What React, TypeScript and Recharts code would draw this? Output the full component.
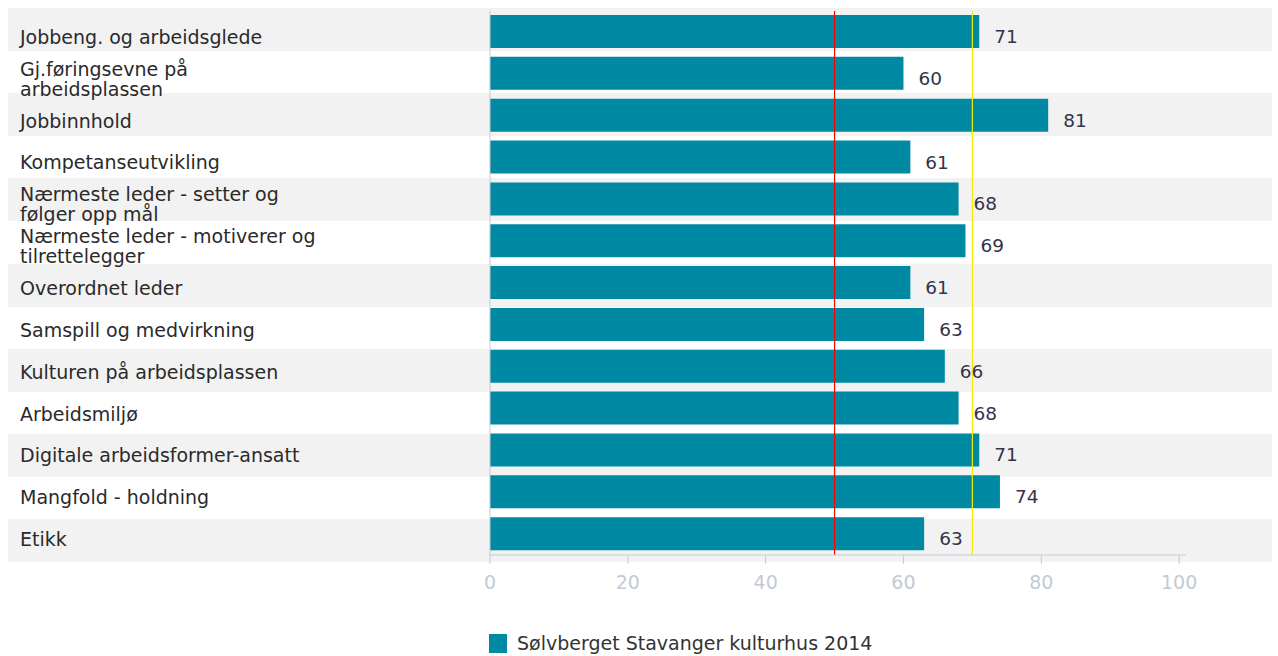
import { BarChart, Bar, XAxis, YAxis, ReferenceLine, LabelList } from 'recharts'

const categories = [
  'Jobbeng. og arbeidsglede',
  'Gj.føringsevne på arbeidsplassen',
  'Jobbinnhold',
  'Kompetanseutvikling',
  'Nærmeste leder - setter og følger opp mål',
  'Nærmeste leder - motiverer og tilrettelegger',
  'Overordnet leder',
  'Samspill og medvirkning',
  'Kulturen på arbeidsplassen',
  'Arbeidsmiljø',
  'Digitale arbeidsformer-ansatt',
  'Mangfold - holdning',
  'Etikk',
]
const values = [71, 60, 81, 61, 68, 69, 61, 63, 66, 68, 71, 74, 63]
const seriesName = 'Sølvberget Stavanger kulturhus 2014'
const xTicks = [0, 20, 40, 60, 80, 100]
const redLine = 50
const yellowLine = 70

const data = categories.map((name, i) => ({ name, value: values[i] }))

const FONT = '"DejaVu Sans", Verdana, sans-serif'
const BAR = '#0089a3'
const AXIS = '#c3cad4'
const LABEL_SIZE = 19
const WRAP = 308

let ctx: CanvasRenderingContext2D | null = null
function wrap(text: string): string[] {
  if (!ctx) {
    ctx = document.createElement('canvas').getContext('2d')
    if (ctx) ctx.font = `${LABEL_SIZE}px "DejaVu Sans"`
  }
  const words = text.split(' ')
  const lines: string[] = []
  let cur = ''
  for (const w of words) {
    const test = cur ? cur + ' ' + w : w
    if (cur && ctx && ctx.measureText(test).width > WRAP) {
      lines.push(cur)
      cur = w
    } else cur = test
  }
  if (cur) lines.push(cur)
  return lines
}

// venstre-kolonne med kategorinavn, brytes over to linjer ved behov
const CategoryTick = ({ y, payload }: any) => {
  const lines = wrap(String(payload.value))
  const lh = 20
  const start = Number(y) + 5 - ((lines.length - 1) * lh) / 2
  return (
    <text fill="#2a2a2a" style={{ fontSize: LABEL_SIZE, fontFamily: FONT }} dominantBaseline="central">
      {lines.map((l, i) => (
        <tspan key={i} x={20} y={start + i * lh}>{l}</tspan>
      ))}
    </text>
  )
}

const ValueLabel = ({ x, y, width, height, value }: any) => (
  <text
    x={Number(x) + Number(width) + 15}
    y={Number(y) + Number(height) / 2 + 5}
    dominantBaseline="central"
    fill="#33334a"
    style={{ fontSize: 18.5, fontFamily: FONT }}
  >
    {value}
  </text>
)

export default function App() {
  return (
    <div style={{ position: 'absolute', left: 0, top: 0, width: 1278, height: 656, background: '#fff', fontFamily: FONT }}>
      {/* stripete bakgrunn */}
      {categories.map((c, i) =>
        i % 2 === 0 ? (
          <div
            key={c}
            style={{ position: 'absolute', left: 8, width: 1264, top: Math.round(8 + i * 42.6), height: 43, background: '#f2f2f2' }}
          />
        ) : null
      )}
      <div style={{ position: 'absolute', left: 0, top: 0 }}>
        <BarChart
          width={1278}
          height={656}
          data={data}
          layout="vertical"
          margin={{ top: 11, right: 92, bottom: 56, left: 0 }}
          barCategoryGap={0}
        >
          <XAxis
            type="number"
            domain={[0, 101]}
            ticks={xTicks}
            allowDataOverflow
            stroke={AXIS}
            tickLine={{ stroke: AXIS }}
            tickSize={9}
            height={45}
            tick={{ fill: '#c3cad4', fontSize: 19, fontFamily: FONT }}
            tickMargin={12}
          />
          <YAxis
            type="category"
            dataKey="name"
            width={490}
            stroke={AXIS}
            tickLine={false}
            tick={<CategoryTick />}
            interval={0}
          />
          <Bar dataKey="value" name={seriesName} fill={BAR} barSize={33} isAnimationActive={false}>
            <LabelList dataKey="value" content={<ValueLabel />} />
          </Bar>
          <ReferenceLine x={redLine} stroke="#ff0000" strokeWidth={1.2} />
          <ReferenceLine x={yellowLine} stroke="#f5ec00" strokeWidth={1.2} />
        </BarChart>
      </div>
      {/* tegnforklaring */}
      <div style={{ position: 'absolute', left: 489, top: 632, display: 'flex', alignItems: 'center' }}>
        <span style={{ display: 'inline-block', width: 18, height: 19, background: BAR }} />
        <span style={{ marginLeft: 10, fontSize: 19, color: '#333' }}>{seriesName}</span>
      </div>
    </div>
  )
}
